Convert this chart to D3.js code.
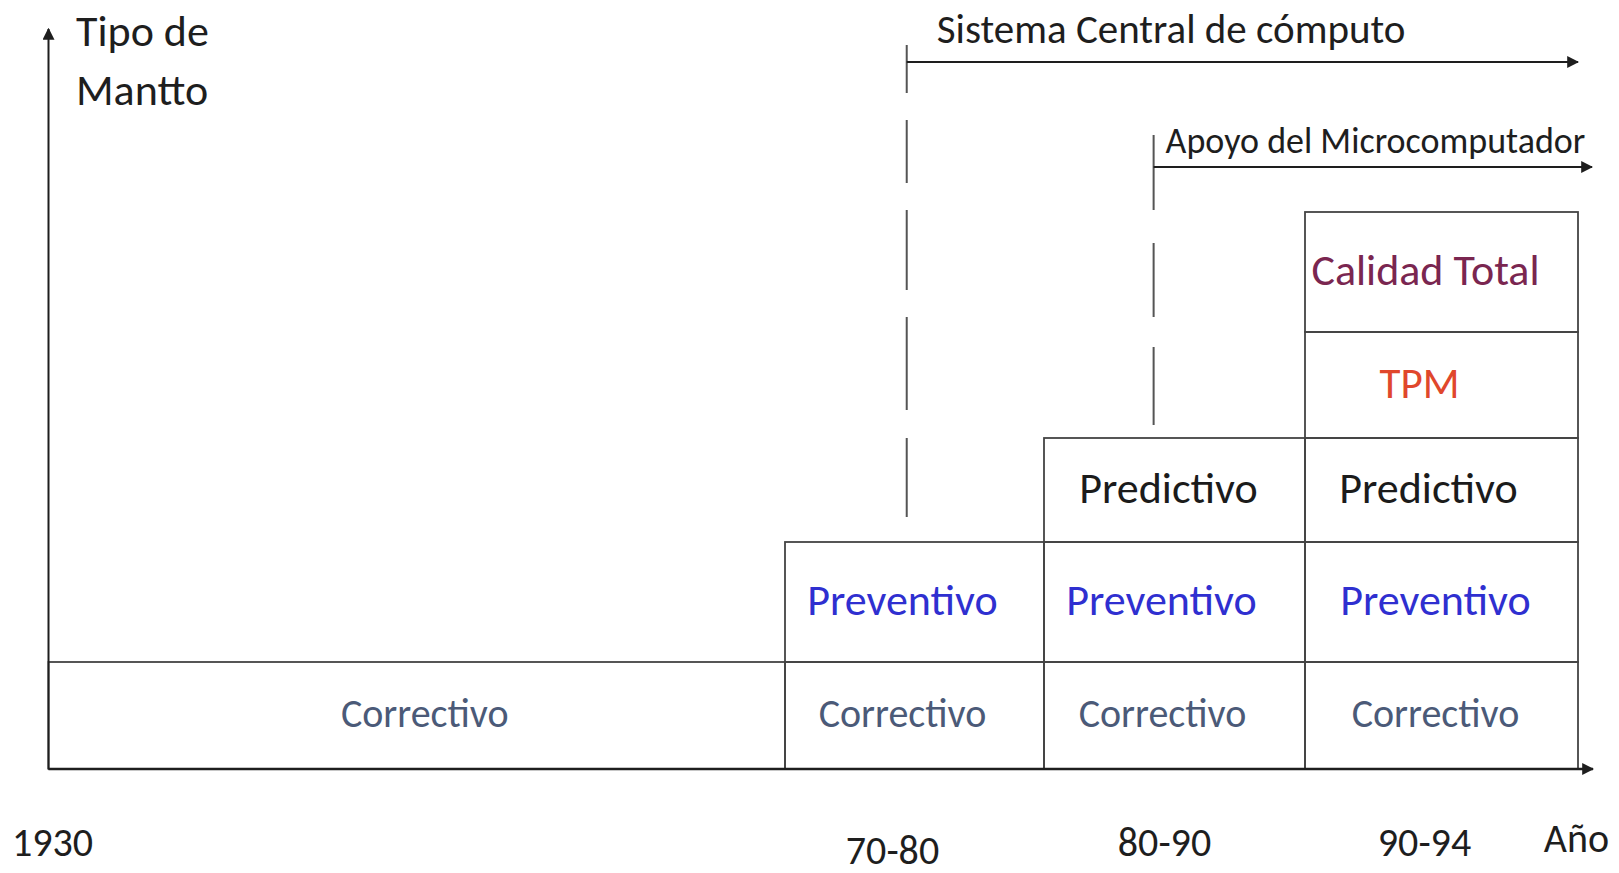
<!DOCTYPE html>
<html>
<head>
<meta charset="utf-8">
<script src="https://cdn.jsdelivr.net/npm/d3@7"></script>
<style>
  html, body { margin: 0; padding: 0; background: #fff; }
  svg { display: block; }
  text { font-family: Carlito, "Liberation Sans Narrow", "DejaVu Sans Condensed", "Open Sans", sans-serif; }
</style>
</head>
<body>
<svg id="chart" width="1619" height="873"></svg>
<script>
// Evolucion del tipo de mantenimiento por periodo

// --- Data ---
var periods = ["1930", "70-80", "80-90", "90-94"];
var maintTypes = ["Correctivo", "Preventivo", "Predictivo", "TPM", "Calidad Total"];
// periodo (indice) en que aparece cada tipo
var typeFirstPeriod = [0, 1, 2, 3, 3];
var techLabels = ["Sistema Central de cómputo", "Apoyo del Microcomputador"];
// momento de llegada en unidades de periodo
var techStart = [1.47, 2.42];
var axisLabels = ["Tipo de", "Mantto"];
var xAxisLabel = "Año";

// --- Styles ---
var typeColors = ["#4b5a78", "#2f2fd0", "#1b1b1b", "#e0472c", "#7a2650"];
var typeFont = [40, 44, 44, 43, 44];
var ink = "#1e1e1e";
var gridStroke = "#444";
// small nudges of the cell labels, keyed level-period
var labelNudge = { "0-0": 8, "0-1": -12, "1-1": -12, "0-2": -12, "1-2": -13, "2-2": -6,
                   "0-3": -6, "1-3": -6, "2-3": -13, "3-3": -22, "4-3": -16 };

(function () {
  "use strict";

  var svg = d3.select("#chart");

  // period boundaries (column widths in the original are not equal)
  var x = d3.scaleLinear().domain([0, 1, 2, 3, 4]).range([48.5, 785, 1044, 1305, 1578]);
  // stack levels, bottom = 0
  var y = d3.scaleLinear().domain([0, 1, 2, 3, 4, 5]).range([769, 662, 542, 438, 332, 212]);

  var defs = svg.append("defs");
  defs.append("marker")
    .attr("id", "arrow")
    .attr("viewBox", "0 0 10 10")
    .attr("refX", 9)
    .attr("refY", 5)
    .attr("markerWidth", 12)
    .attr("markerHeight", 12)
    .attr("markerUnits", "userSpaceOnUse")
    .attr("orient", "auto")
    .append("path")
    .attr("d", "M0,0 L10,5 L0,10 Z")
    .attr("fill", ink);

  // --- Cells ---
  var cells = [];
  maintTypes.forEach(function (t, i) {
    for (var p = typeFirstPeriod[i]; p < periods.length; p++) {
      cells.push({ type: t, level: i, period: p });
    }
  });

  var gCells = svg.append("g");
  gCells.selectAll("rect")
    .data(cells)
    .enter()
    .append("rect")
    .attr("x", function (d) { return x(d.period); })
    .attr("y", function (d) { return y(d.level + 1); })
    .attr("width", function (d) { return x(d.period + 1) - x(d.period); })
    .attr("height", function (d) { return y(d.level) - y(d.level + 1); })
    .attr("fill", "none")
    .attr("stroke", gridStroke)
    .attr("stroke-width", 1.8);

  gCells.selectAll("text")
    .data(cells)
    .enter()
    .append("text")
    .attr("x", function (d) {
      return (x(d.period) + x(d.period + 1)) / 2 + (labelNudge[d.level + "-" + d.period] || 0);
    })
    .attr("y", function (d) { return (y(d.level) + y(d.level + 1)) / 2 - 2; })
    .attr("text-anchor", "middle")
    .attr("dominant-baseline", "central")
    .attr("font-size", function (d) { return typeFont[d.level] + "px"; })
    .attr("fill", function (d) { return typeColors[d.level]; })
    .text(function (d) { return d.type; });

  // --- Axes ---
  svg.append("line")
    .attr("x1", x(0)).attr("y1", y(0))
    .attr("x2", x(0)).attr("y2", 29)
    .attr("stroke", ink).attr("stroke-width", 2)
    .attr("marker-end", "url(#arrow)");
  svg.append("line")
    .attr("x1", x(0)).attr("y1", y(0))
    .attr("x2", 1593).attr("y2", y(0))
    .attr("stroke", ink).attr("stroke-width", 2.4)
    .attr("marker-end", "url(#arrow)");

  svg.selectAll("text.ylab")
    .data(axisLabels)
    .enter()
    .append("text")
    .attr("class", "ylab")
    .attr("x", 76)
    .attr("y", function (d, i) { return 31 + i * 59; })
    .attr("dominant-baseline", "central")
    .attr("font-size", "44px")
    .attr("fill", ink)
    .text(function (d) { return d; });

  // period labels under the axis
  var tickOffsets = [{ dx: 0, y: 842, anchor: "start", ax: 12 }, { dx: -22, y: 850 }, { dx: -10, y: 842 }, { dx: -17, y: 842 }];
  svg.selectAll("text.period")
    .data(periods)
    .enter()
    .append("text")
    .attr("class", "period")
    .attr("x", function (d, i) {
      var o = tickOffsets[i];
      return o.ax != null ? o.ax : (x(i) + x(i + 1)) / 2 + o.dx;
    })
    .attr("y", function (d, i) { return tickOffsets[i].y; })
    .attr("text-anchor", function (d, i) { return tickOffsets[i].anchor || "middle"; })
    .attr("dominant-baseline", "central")
    .attr("font-size", "40px")
    .attr("fill", ink)
    .text(function (d) { return d; });

  svg.append("text")
    .attr("x", 1609)
    .attr("y", 838)
    .attr("text-anchor", "end")
    .attr("dominant-baseline", "central")
    .attr("font-size", "40px")
    .attr("fill", ink)
    .text(xAxisLabel);

  // --- Technology arrows ---
  var techStyle = [
    { yh: 62, top: 45, bottom: 517, end: 1578, dash: "48,27,63,27,80,27,93,28,79", font: 41, ty: 29, tx: 30 },
    { yh: 167, top: 135, bottom: 425, end: 1592, dash: "75,33,74,30,78", font: 36, ty: 141, tx: 12 }
  ];
  techLabels.forEach(function (label, i) {
    var s = techStyle[i];
    var x0 = x(techStart[i]);
    svg.append("line")
      .attr("x1", x0).attr("y1", s.top)
      .attr("x2", x0).attr("y2", s.bottom)
      .attr("stroke", "#555").attr("stroke-width", 2)
      .attr("stroke-dasharray", s.dash);
    svg.append("line")
      .attr("x1", x0).attr("y1", s.yh)
      .attr("x2", s.end).attr("y2", s.yh)
      .attr("stroke", ink).attr("stroke-width", 2)
      .attr("marker-end", "url(#arrow)");
    svg.append("text")
      .attr("x", x0 + s.tx)
      .attr("y", s.ty)
      .attr("dominant-baseline", "central")
      .attr("font-size", s.font + "px")
      .attr("fill", ink)
      .text(label);
  });
})();
</script>
</body>
</html>
